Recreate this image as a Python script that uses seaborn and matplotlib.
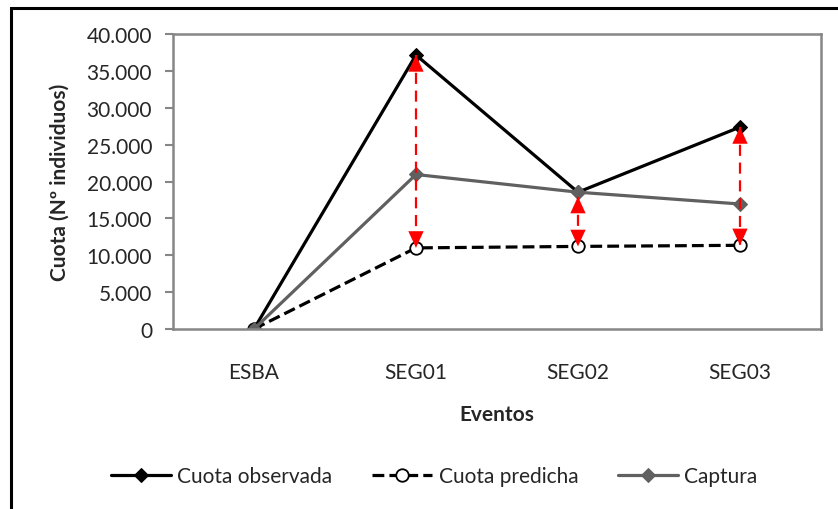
import pandas as pd
import numpy as np
import matplotlib
matplotlib.use("Agg")
import matplotlib.pyplot as plt
from matplotlib.ticker import FuncFormatter
from matplotlib.patches import Rectangle
import seaborn as sns

eventos = ["ESBA", "SEG01", "SEG02", "SEG03"]
cuota_observada = [0, 37150, 18550, 27380]
cuota_predicha = [0, 11000, 11200, 11350]
captura = [0, 20950, 18550, 16950]

sns.set_style("white")
plt.rcParams['font.family'] = ['Lato', 'DejaVu Sans']
FS = 15

fig = plt.figure(figsize=(8.38, 5.10), dpi=100)
ax = fig.add_axes([0.2064, 0.3529, 0.7733, 0.5785])

sns.lineplot(x=eventos, y=cuota_observada, ax=ax, color="black", lw=2.3,
             marker="D", markersize=7, markeredgecolor="black", label="Cuota observada", sort=False)
sns.lineplot(x=eventos, y=cuota_predicha, ax=ax, color="black", lw=2.3, linestyle="--",
             marker="o", markersize=9, markerfacecolor="white", markeredgecolor="black",
             markeredgewidth=1.3, label="Cuota predicha", sort=False)
sns.lineplot(x=eventos, y=captura, ax=ax, color="#606060", lw=2.3,
             marker="D", markersize=7, markeredgecolor="#606060", label="Captura", sort=False)

# red double arrows between observed (or captura) and predicted
head = "-|>,head_length=1.2,head_width=0.55"
for i in range(1, len(eventos)):
    top = cuota_observada[i]
    if i == 2:
        top = captura[i] - 600
    bot = cuota_predicha[i]
    ax.plot([i, i], [top, bot], color="red", lw=1.6, linestyle=(0, (5, 3)), zorder=4)
    ax.annotate("", xy=(i, top), xytext=(0, -16), textcoords="offset points",
                arrowprops=dict(arrowstyle=head, color="red", lw=0.01, shrinkA=0, shrinkB=0),
                zorder=5)
    ax.annotate("", xy=(i, bot), xytext=(0, 16), textcoords="offset points",
                arrowprops=dict(arrowstyle=head, color="red", lw=0.01, shrinkA=0, shrinkB=0),
                zorder=5)

ax.set_xlim(-0.5, 3.5)
ax.set_ylim(0, 40000)
ax.set_yticks(np.arange(0, 40001, 5000))
ax.yaxis.set_major_formatter(FuncFormatter(lambda v, p: f"{int(v):,}".replace(",", ".")))
ax.tick_params(axis="y", which="major", left=True, length=6, width=1.5, color="#868686",
               labelsize=FS, pad=9)
ax.tick_params(axis="x", bottom=False, labelsize=FS, pad=20)
for s in ax.spines.values():
    s.set_color("#868686")
    s.set_linewidth(1.8)

ax.set_ylabel("Cuota (Nº individuos)", fontsize=FS, fontweight="bold", labelpad=12)
ax.set_xlabel("Eventos", fontsize=FS, fontweight="bold", labelpad=16)

h, l = ax.get_legend_handles_labels()
ax.get_legend().remove()
fig.legend(h, l, loc="center", bbox_to_anchor=(0.518, 0.065), ncol=3, frameon=False,
           fontsize=FS, handlelength=2.9, handletextpad=0.3, columnspacing=1.9)

fig.patches.append(Rectangle((11 / 838, -0.1), 1.2, (510 - 9) / 510 + 0.1,
                             transform=fig.transFigure, fill=False, edgecolor="black",
                             lw=2.2, zorder=10))

plt.savefig("out.png", dpi=100)
